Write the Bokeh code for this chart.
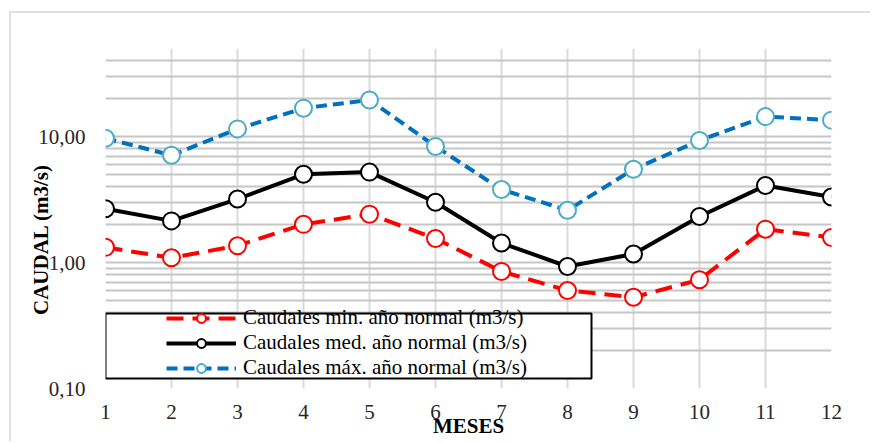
from bokeh.plotting import figure
from bokeh.models import (Range1d, FixedTicker, Legend, LegendItem,
                          BoxAnnotation, ColumnDataSource)
from bokeh.embed import file_html
from bokeh.resources import INLINE

meses = [1, 2, 3, 4, 5, 6, 7, 8, 9, 10, 11, 12]
caudal_min = [1.32, 1.09, 1.36, 2.01, 2.42, 1.55, 0.85, 0.60, 0.53, 0.73, 1.84, 1.58]
caudal_med = [2.67, 2.14, 3.19, 5.02, 5.22, 3.01, 1.43, 0.93, 1.17, 2.32, 4.09, 3.31]
caudal_max = [9.7, 7.1, 11.5, 16.8, 19.5, 8.35, 3.8, 2.6, 5.5, 9.3, 14.4, 13.5]

y_ticks = [0.1, 1, 10]
y_tick_labels = ["0,10", "1,00", "10,00"]
y_grid = [0.1, 0.2, 0.3, 0.4, 0.5, 0.6, 0.7, 0.8, 0.9,
          1, 2, 3, 4, 5, 6, 7, 8, 9,
          10, 20, 30, 40, 50]

labels = ["Caudales min. año normal (m3/s)",
          "Caudales med. año normal (m3/s)",
          "Caudales máx. año normal (m3/s)"]
x_title = "MESES"
y_title = "CAUDAL (m3/s)"

FONT = "'Liberation Serif', 'Times New Roman', serif"

p = figure(width=861, height=430, output_backend="svg", toolbar_location=None,
           y_axis_type="log", x_range=Range1d(1, 12), y_range=Range1d(0.1, 50),
           min_border_left=94, min_border_right=41, min_border_top=35,
           min_border_bottom=55,
           margin=(11, 0, 0, 9),
           styles={"border-top": "2px solid #e0e0e0", "border-left": "2px solid #e0e0e0",
                   "border-right": "none", "border-bottom": "none"})
p.outline_line_color = None
p.background_fill_color = "white"
p.border_fill_color = "white"

# axes
p.xaxis.ticker = FixedTicker(ticks=meses)
p.yaxis.ticker = FixedTicker(ticks=y_ticks)
p.yaxis.major_label_overrides = {t: l for t, l in zip(y_ticks, y_tick_labels)}
for ax in (p.xaxis[0], p.yaxis[0]):
    ax.axis_line_color = None
    ax.major_tick_line_color = None
    ax.minor_tick_line_color = None
    ax.major_label_text_font = FONT
    ax.major_label_text_font_size = "21px"
    ax.major_label_text_color = "#262626"
    ax.axis_label_text_font = FONT
    ax.axis_label_text_font_size = "21px"
    ax.axis_label_text_font_style = "bold"
    ax.axis_label_text_color = "black"
p.yaxis.major_label_standoff = 14
p.xaxis.major_label_standoff = 10
p.xaxis.axis_label = x_title
p.xaxis.axis_label_standoff = -8
# trailing non-breaking spaces push the rotated title a little lower, as in the reference
p.yaxis.axis_label = y_title + "\u00a0" * 8
p.yaxis.axis_label_standoff = -18

# grids
p.ygrid.ticker = FixedTicker(ticks=y_grid)
p.ygrid.grid_line_color = "#c6c6c6"
p.ygrid.grid_line_width = 2
p.xgrid.ticker = FixedTicker(ticks=meses)
p.xgrid.grid_line_color = "#dadada"
p.xgrid.grid_line_width = 2

src = ColumnDataSource(dict(x=meses, mn=caudal_min, md=caudal_med, mx=caudal_max))

l_min = p.line("x", "mn", source=src, line_color="#ff0000", line_width=4, line_dash="17 9")
c_min = p.scatter("x", "mn", source=src, size=17, fill_color="white", line_color="#ff0000", line_width=2)
l_med = p.line("x", "md", source=src, line_color="black", line_width=4)
c_med = p.scatter("x", "md", source=src, size=17, fill_color="white", line_color="black", line_width=2)
l_max = p.line("x", "mx", source=src, line_color="#0070c0", line_width=4, line_dash="11 6")
c_max = p.scatter("x", "mx", source=src, size=17, fill_color="white", line_color="#4bacc6", line_width=2)

# legend frame
box = BoxAnnotation(left=0, right=486, bottom=10, top=75,
                    left_units="screen", right_units="screen",
                    bottom_units="screen", top_units="screen",
                    fill_color="white", fill_alpha=1,
                    line_color="black", line_alpha=1, line_width=2)
p.add_layout(box)

legend = Legend(items=[LegendItem(label=labels[0], renderers=[l_min, c_min]),
                       LegendItem(label=labels[1], renderers=[l_med, c_med]),
                       LegendItem(label=labels[2], renderers=[l_max, c_max])],
                location=(61, 8), padding=0, margin=0, spacing=0,
                glyph_width=70, glyph_height=22, label_height=22,
                label_standoff=7,
                label_text_font=FONT, label_text_font_size="21px",
                label_text_color="black",
                border_line_color=None, background_fill_alpha=0)
p.add_layout(legend)

open("out.html", "w").write(file_html(p, INLINE))
